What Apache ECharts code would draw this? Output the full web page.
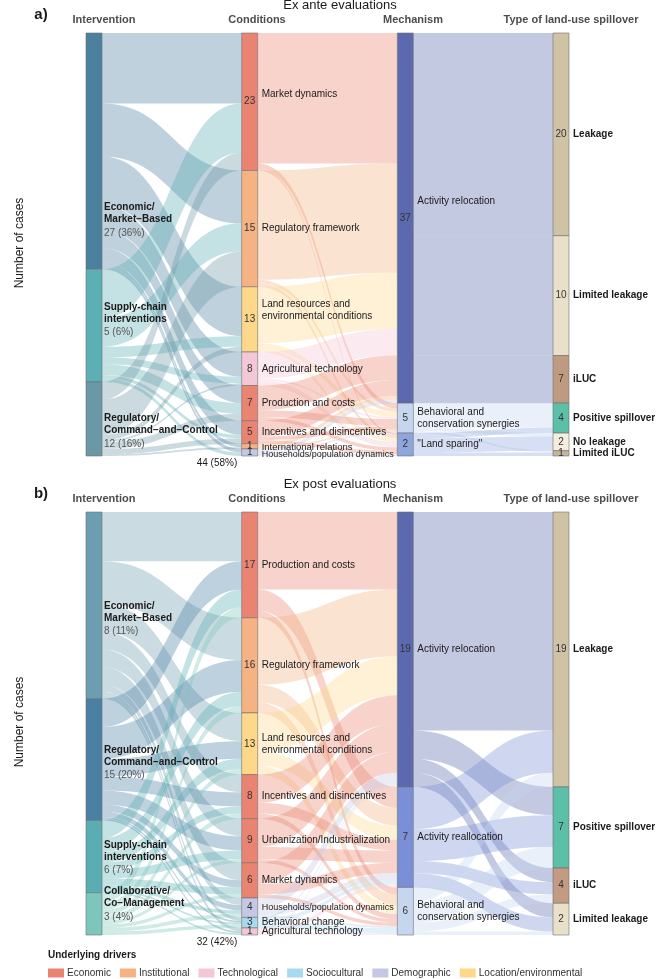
<!DOCTYPE html>
<html><head><meta charset="utf-8">
<script src="https://cdn.jsdelivr.net/npm/echarts@6/dist/echarts.min.js"></script>
<style>html,body{margin:0;padding:0;background:#fff;overflow:hidden}#c{width:659px;height:979px}</style>
</head><body><div id="c"></div>
<script>
// ---------------- Panel a: Ex ante evaluations ----------------
const aIntervention = ['Economic/\nMarket−Based', 'Supply-chain\ninterventions', 'Regulatory/\nCommand−and−Control'];
const aInterventionCases = [27, 5, 12];
const aInterventionShare = ['36%', '6%', '16%'];
const aConditions = ['Market dynamics', 'Regulatory framework', 'Land resources and\nenvironmental conditions', 'Agricultural technology', 'Production and costs', 'Incentives and disincentives', 'International relations', 'Households/population dynamics'];
const aConditionCases = [23, 15, 13, 8, 7, 5, 1, 1];
const aConditionDrivers = ['Economic', 'Institutional', 'Location/environmental', 'Technological', 'Economic', 'Economic', 'Institutional', 'Demographic'];
const aMechanisms = ['Activity relocation', 'Behavioral and\nconservation synergies', '"Land sparing"'];
const aMechanismCases = [37, 5, 2];
const aSpillovers = ['Leakage', 'Limited leakage', 'iLUC', 'Positive spillover', 'No leakage', 'Limited iLUC'];
const aSpilloverCases = [20, 10, 7, 4, 2, 1];
// alluvium weights (stratum heights as drawn), rows -> columns
const aFlowInterventionCondition = [
  [20, 15, 14, 7, 5, 4, 1, 1],
  [14, 8, 3, 2, 3, 1, 0, 1],
  [5, 10, 1.5, 0.5, 2, 1.5, 0.5, 0]
];
const aFlowConditionMechanism = [
  [37, 1.5, 0.5], [31, 1, 1], [16, 1.5, 1], [7.5, 0.5, 1.5],
  [7, 2, 1], [4.5, 1, 1], [1, 0.5, 0], [1, 0.5, 0.5]
];
const aFlowMechanismSpillover = [
  [57.5, 34, 13.5, 0, 0, 0],
  [0, 0, 0, 7, 1, 0.5],
  [0, 0, 0, 1.5, 4, 1]
];
const aTotal = '44 (58%)';

// ---------------- Panel b: Ex post evaluations ----------------
const bIntervention = ['Economic/\nMarket−Based', 'Regulatory/\nCommand−and−Control', 'Supply-chain\ninterventions', 'Collaborative/\nCo−Management'];
const bInterventionCases = [8, 15, 6, 3];
const bInterventionShare = ['11%', '20%', '7%', '4%'];
const bConditions = ['Production and costs', 'Regulatory framework', 'Land resources and\nenvironmental conditions', 'Incentives and disincentives', 'Urbanization/Industrialization', 'Market dynamics', 'Households/population dynamics', 'Behavioral change', 'Agricultural technology'];
const bConditionCases = [17, 16, 13, 8, 9, 6, 4, 3, 1];
const bConditionDrivers = ['Economic', 'Institutional', 'Location/environmental', 'Economic', 'Economic', 'Economic', 'Demographic', 'Sociocultural', 'Technological'];
const bMechanisms = ['Activity relocation', 'Activity reallocation', 'Behavioral and\nconservation synergies'];
const bMechanismCases = [19, 7, 6];
const bSpillovers = ['Leakage', 'Positive spillover', 'iLUC', 'Limited leakage'];
const bSpilloverCases = [19, 7, 4, 2];
const bFlowInterventionCondition = [
  [14, 12, 8, 5, 5, 5, 2, 1, 1],
  [8, 9, 5, 4, 4, 2, 1.5, 0.5, 0.5],
  [5, 4, 3, 2, 2.5, 2, 1, 0.5, 0.5],
  [3, 2, 1.5, 1.5, 1, 1, 1, 1, 0]
];
const bFlowConditionMechanism = [
  [22, 6, 2], [19, 5, 3], [11, 4, 2.5], [8, 3, 1.5], [8, 3.5, 1],
  [6, 3, 1], [3, 2, 0.5], [0.5, 1, 1.5], [0.5, 1, 0.5]
];
const bFlowMechanismSpillover = [
  [62, 8, 4, 4],
  [12, 9, 3.5, 4],
  [4, 6, 2.5, 1]
];
const bTotal = '32 (42%)';

const driverNames = ['Economic', 'Institutional', 'Technological', 'Sociocultural', 'Demographic', 'Location/environmental'];

// ---------------- styles ----------------
const FONT = "'Liberation Sans',Arial,sans-serif";
const FS = 10;
const driverColors = {
  'Economic': '#ea8472', 'Institutional': '#f5b283', 'Technological': '#f3c8d6',
  'Sociocultural': '#a8d9ee', 'Demographic': '#c5c8e4', 'Location/environmental': '#fdd88b'
};
const aInterventionColors = ['#4b809f', '#5bafb5', '#6b98a7'];
const bInterventionColors = ['#6b9eb0', '#4a80a3', '#5aaeb3', '#7cc7b9'];
const aMechanismColors = ['#5b6aae', '#c6d6ef', '#8ea5de'];
const bMechanismColors = ['#5b6aae', '#7b8fd6', '#c6d6ef'];
const aSpilloverColors = ['#cfc3a5', '#e9e0c9', '#c09a80', '#5cbfa8', '#f4ede0', '#c8b49a'];
const bSpilloverColors = ['#cfc3a5', '#5cbfa8', '#c29b82', '#e9e0c9'];
const smallLabelSize = { 'Households/population dynamics': 9, 'International relations': 9.5 };
const aLabelOffsets = { 'Economic/\nMarket−Based': 70, 'Supply-chain\ninterventions': -5, 'Regulatory/\nCommand−and−Control': 13, 'Activity relocation': -17, 'Market dynamics': -7, 'Land resources and\nenvironmental conditions': -9, 'International relations': 1, 'Households/population dynamics': 2 };
const bLabelOffsets = { 'Economic/\nMarket−Based': 14, 'Regulatory/\nCommand−and−Control': 4, 'Supply-chain\ninterventions': 2, 'Collaborative/\nCo−Management': -9 };

function buildPanel(p) {
  const nodes = [];
  const cols = [
    { names: p.interv, colors: p.intervColors, kind: 'interv' },
    { names: p.cond, colors: p.condDrivers.map(d => driverColors[d]), kind: 'cond', cases: p.condCases },
    { names: p.mech, colors: p.mechColors, kind: 'mech', cases: p.mechCases },
    { names: p.spill, colors: p.spillColors, kind: 'spill', cases: p.spillCases }
  ];
  cols.forEach((c, depth) => {
    c.names.forEach((n, i) => {
      nodes.push({ name: n, depth: depth, kind: c.kind, idx: i, color: c.colors[i], num: c.cases ? c.cases[i] : null });
    });
  });
  const links = [];
  const addLinks = (mat, src, tgt) => mat.forEach((row, i) => row.forEach((v, j) => { if (v > 0) links.push({ source: src[i], target: tgt[j], value: v }); }));
  addLinks(p.flowIC, p.interv, p.cond);
  addLinks(p.flowCM, p.cond, p.mech);
  addLinks(p.flowMS, p.mech, p.spill);

  const base = {
    type: 'sankey', left: 86, right: 90, top: p.top, height: 423,
    nodeWidth: 16, nodeGap: 0, layoutIterations: 0, draggable: false,
    nodeAlign: 'justify', emphasis: { disabled: true }, silent: true, animation: false
  };
  const marks = Object.assign({}, base, {
    z: 2,
    data: nodes.map(n => ({
      name: n.name, depth: n.depth, num: n.num,
      itemStyle: { color: n.color, borderColor: '#6f6f6f', borderWidth: 0.6 },
      label: n.kind === 'interv' ? { show: false } : {
        show: true, position: 'inside', fontFamily: FONT, fontSize: FS, color: '#333',
        formatter: prm => String(prm.data.num)
      }
    })),
    links: links,
    lineStyle: { color: 'source', opacity: 0.36, curveness: 0.5 }
  });
  const names = Object.assign({}, base, {
    z: 3,
    data: nodes.map(n => {
      const off = [0, (p.offsets[n.name] || 0)];
      let label;
      if (n.kind === 'interv') {
        const txt = '{b|' + n.name + '}\n{n|' + p.intervCases[n.idx] + ' (' + p.intervShare[n.idx] + ')}';
        label = { show: true, position: 'right', distance: 2, offset: off, formatter: () => txt,
          rich: { b: { fontFamily: FONT, fontSize: FS, fontWeight: 'bold', color: '#1a1a1a', lineHeight: 12 },
                  n: { fontFamily: FONT, fontSize: FS, color: '#555', lineHeight: 15 } } };
      } else {
        label = { show: true, position: 'right', distance: 4, offset: off, fontFamily: FONT,
          fontSize: smallLabelSize[n.name] || FS,
          lineHeight: 12, color: '#1a1a1a', fontWeight: n.kind === 'spill' ? 'bold' : 'normal',
          formatter: prm => prm.name };
      }
      return { name: n.name, depth: n.depth, itemStyle: { color: 'rgba(0,0,0,0)', borderWidth: 0 }, label: label };
    }),
    links: links,
    lineStyle: { color: 'rgba(0,0,0,0)', opacity: 0 }
  });
  return [marks, names];
}

const panelA = buildPanel({
  top: 33, interv: aIntervention, intervCases: aInterventionCases, intervShare: aInterventionShare, intervColors: aInterventionColors,
  cond: aConditions, condCases: aConditionCases, condDrivers: aConditionDrivers,
  mech: aMechanisms, mechCases: aMechanismCases, mechColors: aMechanismColors,
  spill: aSpillovers, spillCases: aSpilloverCases, spillColors: aSpilloverColors,
  flowIC: aFlowInterventionCondition, flowCM: aFlowConditionMechanism, flowMS: aFlowMechanismSpillover,
  offsets: aLabelOffsets
});
const panelB = buildPanel({
  top: 512, interv: bIntervention, intervCases: bInterventionCases, intervShare: bInterventionShare, intervColors: bInterventionColors,
  cond: bConditions, condCases: bConditionCases, condDrivers: bConditionDrivers,
  mech: bMechanisms, mechCases: bMechanismCases, mechColors: bMechanismColors,
  spill: bSpillovers, spillCases: bSpilloverCases, spillColors: bSpilloverColors,
  flowIC: bFlowInterventionCondition, flowCM: bFlowConditionMechanism, flowMS: bFlowMechanismSpillover,
  offsets: bLabelOffsets
});

function txt(text, x, y, font, fill, align, rot) {
  return { type: 'text', x: x, y: y, rotation: rot || 0, silent: true, z: 10,
    style: { text: text, font: font, fill: fill || '#1a1a1a', textAlign: align || 'center', align: align || 'center',
             textVerticalAlign: 'middle', verticalAlign: 'middle' } };
}
const headerFont = 'bold 11px ' + FONT;
const graphics = [];
[[0, 'a)', 'Ex ante evaluations', aTotal], [479, 'b)', 'Ex post evaluations', bTotal]].forEach(([dy, tag, title, total]) => {
  graphics.push(txt(tag, 41, 15 + dy, 'bold 15px ' + FONT, '#1a1a1a'));
  graphics.push(txt(title, 340, 5 + dy, '13px ' + FONT, '#1a1a1a'));
  graphics.push(txt('Intervention', 104, 20 + dy, headerFont, '#4d4d4d'));
  graphics.push(txt('Conditions', 257, 20 + dy, headerFont, '#4d4d4d'));
  graphics.push(txt('Mechanism', 413, 20 + dy, headerFont, '#4d4d4d'));
  graphics.push(txt('Type of land-use spillover', 571, 20 + dy, headerFont, '#4d4d4d'));
  graphics.push(txt('Number of cases', 20, 243 + dy, '12px ' + FONT, '#1a1a1a', 'center', Math.PI / 2));
  graphics.push(txt(total, 217, 463 + dy, '10px ' + FONT, '#1a1a1a'));
});
graphics.push(txt('Underlying drivers', 48, 955, 'bold 10px ' + FONT, '#1a1a1a', 'left'));

const chart = echarts.init(document.getElementById('c'));
chart.setOption({
  animation: false,
  backgroundColor: '#fff',
  grid: { left: 0, top: 0, width: 1, height: 1, show: false },
  xAxis: { show: false, type: 'category', data: [] },
  yAxis: { show: false, type: 'value' },
  legend: {
    data: driverNames, left: 43, top: 963, icon: 'rect', itemWidth: 16, itemHeight: 9, itemGap: 9,
    selectedMode: false, textStyle: { fontFamily: FONT, fontSize: FS, color: '#333', padding: [0, 0, 0, -2] }
  },
  graphic: graphics,
  series: panelA.concat(panelB).concat(driverNames.map(n => ({
    type: 'bar', name: n, data: [], itemStyle: { color: driverColors[n] }
  })))
});
</script>
</body></html>
